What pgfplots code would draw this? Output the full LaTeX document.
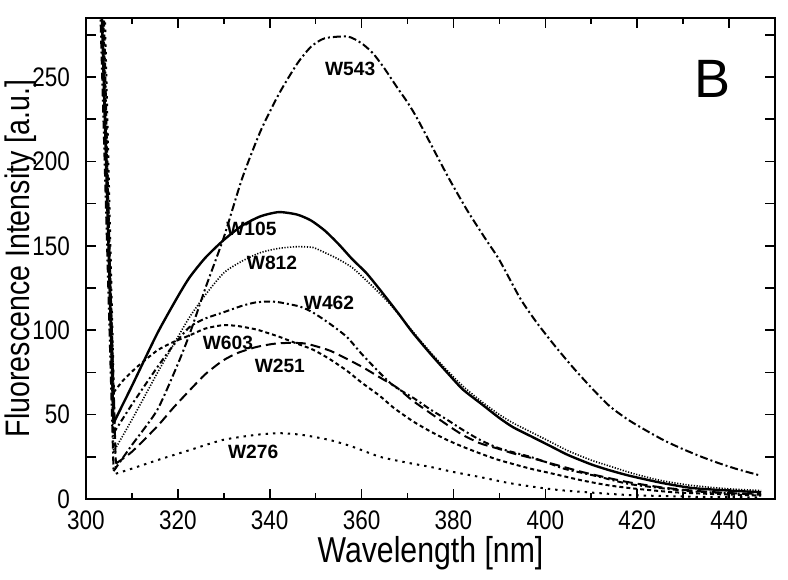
\documentclass[border=0pt]{standalone}
\usepackage{pgfplots}
\pgfplotsset{compat=1.18}
\usepackage{fontspec}
\setmainfont{Liberation Sans}
\newfontfamily\narrow{Liberation Sans}[FakeStretch=0.84]

\begin{document}
\begin{tikzpicture}
\begin{axis}[name=ax, scale only axis, width=344.5pt, height=240.5pt,
  xmin=300, xmax=450, ymin=0, ymax=285,
  xtick={300,320,...,440}, minor xtick={310,330,...,450},
  ytick={0,25,...,275}, yticklabels={0,,50,,100,,150,,200,,250,},
  tick align=inside, major tick length=5pt, minor tick length=3pt,
  axis line style={line width=1pt},
  every tick/.style={line width=0.8pt, black},
  tick label style={font=\narrow\fontsize{13.4}{16}\selectfont},
  yticklabel style={xshift=-4.5pt},
  xticklabel style={yshift=-2.5pt},
  /pgf/number format/assume math mode=true,
  xlabel={Wavelength [nm]},
  ylabel={Fluorescence Intensity [a.u.]},
  xlabel style={font=\narrow\fontsize{18}{21}\selectfont, at={(axis description cs:0.5,-0.112)}, anchor=center},
  ylabel style={font=\narrow\fontsize{17}{21}\selectfont, inner sep=0pt, at={(axis description cs:-0.095,0.5)}, anchor=center},
  every axis plot/.append style={black, line width=1pt},
]
% W105 solid
\addplot[line width=1.2pt] coordinates {(303.3,300) (306,45)};
\addplot[line width=1.2pt, smooth, tension=0.4] coordinates {
(306,45) (310,67) (315.5,98) (320,120) (322.6,131.5) (326,143) (330,153.5)
(334,162) (338,167.5) (342,170) (346,168.5) (349,165) (352,159) (355,151) (358,142)
(361,134) (364,124) (368,110) (371,99) (375,86) (378.6,75) (382,65) (386,56.5)
(390,48) (393,42.5) (397,37) (401,31.5) (405,26) (410,20.5) (414,17) (418,14)
(422,11.5) (426,9.2) (432,6.5) (440,5) (447,4)};
% W812 fine dotted
\addplot[line width=0.8pt, dash pattern=on 0.6pt off 0.8pt] coordinates {(303.5,300) (306,28)};
\addplot[line width=0.8pt, dash pattern=on 0.6pt off 0.8pt, smooth, tension=0.4] coordinates {
(306,28) (310,47) (315.5,74.5) (320,96) (322.6,108) (326,121) (330,134)
(334,141) (338,146) (342,148.5) (346,149.5) (349.4,149) (352,146) (355,142) (358,137)
(362,127) (366,116) (370,103) (374,90) (378,78) (382,67) (386,58) (390,50)
(393,45) (397,39.5) (401,34) (405,28.5) (410,23) (414,19.5) (418,16) (422,13)
(426,10.5) (432,8) (440,6) (447,5)};
% W543 dash-dot
\addplot[dash pattern=on 4pt off 1.5pt on 1pt off 1.5pt] coordinates {(303.0,300) (306,16.5)};
\addplot[dash pattern=on 4pt off 1.5pt on 1pt off 1.5pt, smooth, tension=0.4] coordinates {
(306,16.5) (310,32) (315.5,52.7) (320,80) (322.6,98) (326,125) (330,155)
(334,190) (338,218) (342,240) (346,258) (349,268) (352,273) (357,274)
(360,270) (362.5,264) (365,255) (367.7,244) (370,235) (372,226) (375.5,208) (379,190)
(383,171) (387,154) (390,141.6) (394.5,119) (398,105) (402,91) (406,78) (410,66)
(414,55) (418,47) (422,40.5) (426,34.5) (430,29.5) (434,25) (438,21) (442,17.5)
(446.7,14)};
% W462 dash-dot
\addplot[dash pattern=on 3pt off 1.5pt on 1pt off 1.5pt] coordinates {(303.8,300) (306,39)};
\addplot[dash pattern=on 3pt off 1.5pt on 1pt off 1.5pt, smooth, tension=0.4] coordinates {
(306,39) (310,56) (315.5,78) (319,91) (322.6,102) (326,107) (329.8,110.5)
(334,114.5) (337,116.5) (340,117) (342.2,116.5) (346.6,114) (349.4,110.5) (353,104) (356.8,96)
(360,86) (364,74.6) (367,67) (371.2,60) (375,53) (378.6,47) (382,41) (385.8,35)
(390,30) (396.7,25) (400,22) (404,18) (408,15.5) (412,13) (418,9) (425,6.5)
(432,4.5) (440,3.5) (447,2.5)};
% W251 long dashed
\addplot[dash pattern=on 5pt off 2.5pt] coordinates {(303.4,300) (306.5,21)};
\addplot[dash pattern=on 5pt off 2.5pt, smooth, tension=0.4] coordinates {
(306.5,21) (310,28) (315.5,43) (319,54) (322.6,64.5) (326,74) (329.8,82)
(333,86.5) (337,90) (341,92) (344.4,92.5) (348,92) (353,88) (356.8,83) (360.3,78)
(364,72) (367.7,66) (371,58.5) (374.9,51) (378.6,44) (382,38) (385.8,33) (389.5,30)
(393,27) (396.7,24.5) (400,22) (404,19) (408,16) (412,13.5) (418,10) (425,7)
(432,5) (440,3.5) (447,3)};
% W603 short dashed
\addplot[dash pattern=on 2pt off 1.5pt] coordinates {(303.6,300) (306,63)};
\addplot[dash pattern=on 2pt off 1.5pt, smooth, tension=0.4] coordinates {
(306,63) (308,70) (311,78) (315.5,88) (319,93) (322.6,97) (326,101)
(329.8,103) (333,102.5) (337,100.5) (340,98) (342.2,96) (346,92) (349.4,88.5) (353,83)
(356.8,76) (360,69) (364,61) (367,54) (371.2,46) (375,40) (378.6,35) (382,31)
(385.8,27) (390,23) (396.7,18) (400,16) (404,13.5) (408,11) (414,8) (420,6)
(428,4) (436,3) (447,2)};
% W276 dotted
\addplot[dash pattern=on 1.2pt off 2.5pt] coordinates {(304.0,300) (306.5,15)};
\addplot[dash pattern=on 1.2pt off 2.5pt, smooth, tension=0.4] coordinates {
(306.5,15) (310,18) (315.5,23) (322.6,29) (329.8,35) (337,38) (342,39)
(347,38) (353,35) (358,31) (364,25) (370,21.5) (375,19) (380,16) (385.8,13)
(392,9.5) (398,7) (403,5.3) (410,3.8) (417.8,2.4) (425,1.8) (435,1.2) (447,1)};

\begin{scope}[font=\fontsize{9.6}{11}\selectfont\bfseries]
\node at (axis cs:357.5,255) {W543};
\node at (axis cs:336,160) {W105};
\node at (axis cs:340.5,140) {W812};
\node at (axis cs:352.9,116) {W462};
\node at (axis cs:330.9,92.4) {W603};
\node at (axis cs:342.2,79) {W251};
\node at (axis cs:336.4,27.8) {W276};
\end{scope}
\node at (axis cs:436.5,249) {\fontsize{27}{30}\selectfont B};
\end{axis}
\path ([xshift=-43pt,yshift=-40pt]ax.south west) rectangle ([xshift=6.5pt,yshift=9pt]ax.north east);
\end{tikzpicture}
\end{document}
